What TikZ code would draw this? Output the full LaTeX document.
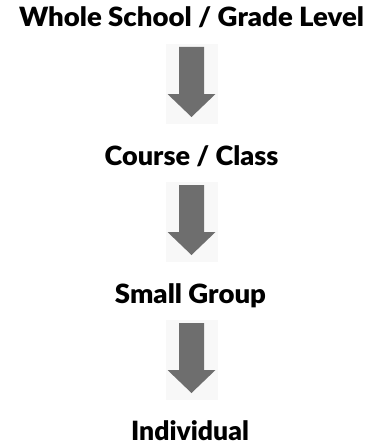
\documentclass[tikz,border=0pt]{standalone}
\usepackage{fontspec}
\setmainfont{Lato}[BoldFont={Lato Black}]
\usetikzlibrary{calc}
\definecolor{arrowgray}{HTML}{6E6E6E}
\definecolor{boxgray}{HTML}{F8F8F8}
\tikzset{
  label/.style={font=\fontsize{26.5}{30}\selectfont\bfseries, anchor=base, inner sep=0pt, text=black},
  arrowbox/.style={fill=boxgray, draw=none, minimum width=52pt, minimum height=80pt, inner sep=0pt},
}
\newcommand{\downarrowshape}[1]{%
  \fill[arrowgray] ($(#1.north)+(-12.5,3)$) -- ($(#1.north)+(12.5,3)$) -- ($(#1.north)+(12.5,50)$) -- ($(#1.north)+(24,50)$) -- ($(#1.north)+(0,73)$) -- ($(#1.north)+(-24,50)$) -- ($(#1.north)+(-12.5,50)$) -- cycle;}
\begin{document}
\begin{tikzpicture}[x=1pt,y=-1pt]
\useasboundingbox[fill=white] (0,0) rectangle (379,444);
\node[label] (t1) at (191.5,27) {\scalebox{1.04}[1]{Whole School / Grade Level}};
\node[label] (t2) at (191.5,165) {\scalebox{1.02}[1]{Course / Class}};
\node[label] (t3) at (190.5,303) {\scalebox{1.04}[1]{Small Group}};
\node[label] (t4) at (190,440) {Individual};
\node[arrowbox, anchor=north] (a1) at (191.5,44) {};
\node[arrowbox, anchor=north] (a2) at (191.5,182) {};
\node[arrowbox, anchor=north] (a3) at (191.5,320) {};
\downarrowshape{a1}
\downarrowshape{a2}
\downarrowshape{a3}
\end{tikzpicture}
\end{document}
